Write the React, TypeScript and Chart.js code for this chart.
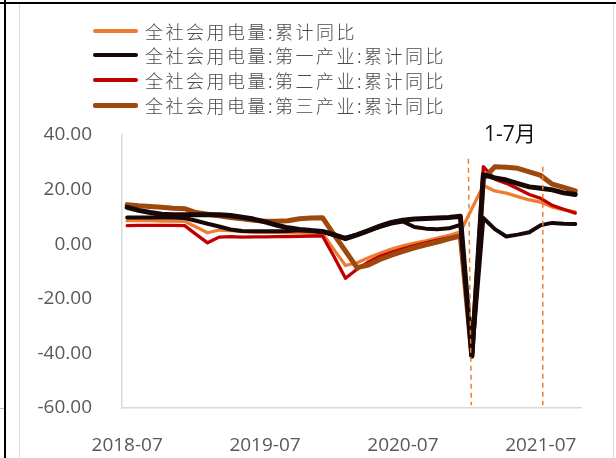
import React, { useEffect, useRef } from "react";
import { Chart, registerables } from "chart.js";

Chart.register(...registerables);

// ---- data ----
const months = [
  "2018-07", "2018-08", "2018-09", "2018-10", "2018-11", "2018-12",
  "2019-01", "2019-02", "2019-03", "2019-04", "2019-05", "2019-06",
  "2019-07", "2019-08", "2019-09", "2019-10", "2019-11", "2019-12",
  "2020-01", "2020-02", "2020-03", "2020-04", "2020-05", "2020-06",
  "2020-07", "2020-08", "2020-09", "2020-10", "2020-11", "2020-12",
  "2021-01", "2021-02", "2021-03", "2021-04", "2021-05", "2021-06",
  "2021-07", "2021-08", "2021-09", "2021-10",
];
const tickMonths = ["2018-07", "2019-07", "2020-07", "2021-07"];
const yTicks = [40, 20, 0, -20, -40, -60];

const totalYoY = [
  8.6, 8.6, 8.6, 8.5, 8.5, 8.4, 6.3, 4.2, 5.2, 5.0,
  4.6, 4.4, 4.3, 4.3, 4.2, 4.2, 4.1, 4.0, -2.0, -7.8,
  -6.8, -5.0, -3.3, -1.8, -0.6, 0.4, 1.2, 2.2, 3.2, 4.5,
  null, 21.5, 19.5, 18.7, 17.4, 16.2, 15.4, 13.6, 12.6, 11.8,
];
const primaryYoY = [
  13.5, 12.4, 11.6, 11.0, 10.8, 10.8, 10.8, 10.8, 10.8, 10.5,
  9.9, 9.2, 8.2, 7.0, 6.0, 5.4, 5.0, 4.7, 3.5, 2.0,
  3.4, 5.0, 6.6, 8.0, 8.8, 9.2, 9.4, 9.6, 9.8, 10.2,
  -41, 25.5, 24.3, 23.5, 22.2, 21.0, 20.5, 19.9, 18.8, 18.2,
];
const otherYoY = [
  9.8, 9.8, 9.8, 9.8, 9.8, 9.6, 8.6, 7.5, 6.5, 5.4,
  4.8, 4.7, 4.7, 4.7, 4.8, 5.1, 4.9, 4.5, 3.3, 2.4,
  3.5, 5.0, 6.4, 7.6, 8.3, 6.3, 5.7, 5.5, 5.8, 7.1,
  -41, 9.6, 5.5, 2.8, 3.5, 4.4, 7.0, 7.8, 7.5, 7.4,
];
const secondaryYoY = [
  6.8, 6.9, 6.9, 6.9, 6.9, 6.8, 3.6, 0.5, 2.6, 2.8,
  2.6, 2.7, 2.7, 2.8, 2.8, 2.9, 3.0, 3.0, -4.5, -12.5,
  -9.2, -6.5, -4.4, -3.0, -1.7, -0.5, 0.5, 1.5, 2.3, 3.0,
  -41, 28.4, 23.8, 22.3, 20.3, 18.2, 16.8, 14.2, 12.8, 11.4,
];
const tertiaryYoY = [
  14.5, 14.1, 13.8, 13.5, 13.2, 13.0, 11.6, 11.0, 10.4, 9.8,
  9.3, 8.8, 8.4, 8.4, 8.6, 9.3, 9.6, 9.7, 3.5, -2.5,
  -8.6, -7.6, -5.6, -4.0, -2.6, -1.3, -0.2, 0.8, 2.0, 3.0,
  -41, 24.0, 28.4, 28.2, 27.8, 26.5, 25.2, 22.0, 20.8, 19.5,
];

const legendNames = [
  "全社会用电量:累计同比",
  "全社会用电量:第一产业:累计同比",
  "全社会用电量:第二产业:累计同比",
  "全社会用电量:第三产业:累计同比",
];
const markerMonths = ["2021-01", "2021-07"];
const markerTops = [31.3, 28.4];
const markerLabel = "1-7月";

// ---- styles ----
const C_ORANGE = "#ED7D31";
const C_BLACK = "#170707";
const C_RED = "#C00000";
const C_BROWN = "#9E480E";
const legendColors = [C_ORANGE, C_BLACK, C_RED, C_BROWN];
const legendWidths = [4, 4, 4, 5];
const legendRowY = [31, 55, 80, 105];

const toPoints = (arr: (number | null)[]) =>
  arr.map((v, i) => ({ x: i, y: v }));

const markerPlugin = {
  id: "markers",
  afterDatasetsDraw(chart: any) {
    const { ctx, scales } = chart;
    const xs = scales.x;
    const ys = scales.y;
    ctx.save();
    ctx.strokeStyle = C_ORANGE;
    ctx.lineWidth = 1.5;
    ctx.setLineDash([5, 4]);
    markerMonths.forEach((m, k) => {
      const px = xs.getPixelForValue(months.indexOf(m)) + (k === 0 ? -0.5 : 2);
      ctx.beginPath();
      ctx.moveTo(px - (k === 0 ? 3 : 0), ys.getPixelForValue(markerTops[k]));
      ctx.lineTo(px, ys.getPixelForValue(-59));
      ctx.stroke();
    });
    ctx.setLineDash([]);
    const i0 = months.indexOf(markerMonths[0]);
    const i1 = months.indexOf(markerMonths[1]);
    const cx = xs.getPixelForValue((i0 + i1) / 2 + 0.3);
    ctx.fillStyle = "#111";
    ctx.font = '21px "Open Sans", "Noto Sans CJK SC", sans-serif';
    ctx.textAlign = "center";
    ctx.textBaseline = "middle";
    ctx.fillText(markerLabel, cx, ys.getPixelForValue(40));
    ctx.restore();
  },
};

export default function App() {
  const ref = useRef<HTMLCanvasElement | null>(null);

  useEffect(() => {
    if (!ref.current) return;
    const line = (data: (number | null)[], color: string, width: number) => ({
      data: toPoints(data),
      borderColor: color,
      backgroundColor: color,
      borderWidth: width,
      pointRadius: 0,
      tension: 0,
      spanGaps: true,
      borderJoinStyle: "round" as const,
      borderCapStyle: "round" as const,
    });
    const chart = new Chart(ref.current, {
      type: "line",
      data: {
        datasets: [
          { label: legendNames[1], ...line(primaryYoY, C_BLACK, 5) },
          { label: "", ...line(otherYoY, C_BLACK, 4) },
          { label: legendNames[3], ...line(tertiaryYoY, C_BROWN, 5) },
          { label: legendNames[2], ...line(secondaryYoY, C_RED, 3.3) },
          { label: legendNames[0], ...line(totalYoY, C_ORANGE, 3.3) },
        ],
      },
      options: {
        responsive: false,
        animation: false,
        layout: { padding: { top: 135, right: 35, left: 0, bottom: 0 } },
        plugins: {
          legend: { display: false },
          tooltip: { enabled: false },
        },
        scales: {
          x: {
            type: "linear",
            min: -0.45,
            max: 39.5,
            grid: { display: false },
            border: { color: "#d9d9d9", width: 1.5 },
            afterBuildTicks: (s: any) => {
              s.ticks = tickMonths.map((m) => ({ value: months.indexOf(m) }));
            },
            afterFit: (s: any) => {
              s.height = 50;
            },
            ticks: {
              callback: (v: any) => months[Math.round(Number(v))],
              color: "#595959",
              font: { family: "'Open Sans'", size: 19 },
              padding: 18,
              maxRotation: 0,
              autoSkip: false,
            },
          },
          y: {
            type: "linear",
            min: -60,
            max: 40,
            grid: { display: false },
            border: { color: "#d9d9d9", width: 1.5, dash: [4, 3] },
            afterBuildTicks: (s: any) => {
              s.ticks = yTicks.map((v) => ({ value: v }));
            },
            afterFit: (s: any) => {
              s.width = 122;
            },
            ticks: {
              callback: (v: any) => Number(v).toFixed(2),
              color: "#595959",
              font: { family: "'Open Sans'", size: 19 },
              padding: 22,
            },
          },
        },
      },
      plugins: [markerPlugin],
    });
    return () => chart.destroy();
  }, []);

  return (
    <div
      style={{
        position: "fixed",
        left: 0,
        top: 0,
        width: 616,
        height: 458,
        background: "#fff",
        overflow: "hidden",
      }}
    >
      <canvas
        ref={ref}
        width={616}
        height={458}
        style={{ position: "absolute", left: 0, top: 0, width: 616, height: 458 }}
      />
      {/* frame lines */}
      <div style={{ position: "absolute", left: 4, top: 0, width: 2, height: 458, background: "#000" }} />
      <div style={{ position: "absolute", left: 0, top: 2, width: 616, height: 2, background: "#000" }} />
      <div style={{ position: "absolute", left: 19, top: 4, width: 1, height: 454, background: "#dcdcdc" }} />
      <div style={{ position: "absolute", left: 613, top: 4, width: 1, height: 454, background: "#dcdcdc" }} />
      <div style={{ position: "absolute", left: 0, top: 408, width: 4, height: 1, background: "#bbb" }} />
      {/* legend */}
      {legendNames.map((name, k) => (
        <div
          key={k}
          style={{
            position: "absolute",
            left: 93,
            top: legendRowY[k] - 12,
            height: 24,
            display: "flex",
            alignItems: "center",
            whiteSpace: "nowrap",
          }}
        >
          <div
            style={{
              width: 45,
              height: legendWidths[k],
              background: legendColors[k],
              borderRadius: 2,
              marginRight: 7,
              flexShrink: 0,
            }}
          />
          <span
            style={{
              fontFamily: '"Noto Sans CJK SC", sans-serif',
              fontSize: "18px",
              letterSpacing: "2.5px",
              color: "#4a4a4a",
              fontWeight: 300,
              lineHeight: "24px",
            }}
          >
            {name}
          </span>
        </div>
      ))}
    </div>
  );
}
